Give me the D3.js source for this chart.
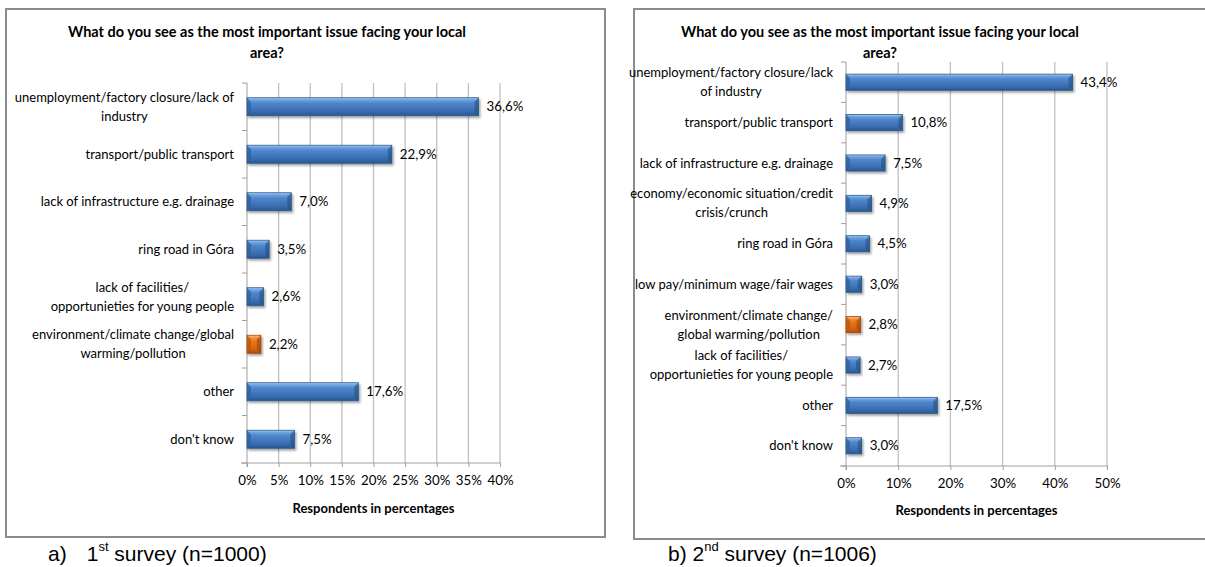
<!DOCTYPE html>
<html><head><meta charset="utf-8">
<script src="https://cdn.jsdelivr.net/npm/d3@7"></script>
<style>
html,body{margin:0;padding:0;background:#fff;}
svg{display:block;}
</style></head>
<body>
<svg id="c" width="1205" height="567"></svg>
<script>
const title = "What do you see as the most important issue facing your local\narea?";
const axisTitle = "Respondents in percentages";

const categories1 = [
  "unemployment/factory closure/lack of\nindustry",
  "transport/public transport",
  "lack of infrastructure e.g. drainage",
  "ring road in Góra",
  "lack of facilities/\nopportunieties for young people",
  "environment/climate change/global\nwarming/pollution",
  "other",
  "don't know"
];
const values1 = [36.6, 22.9, 7.0, 3.5, 2.6, 2.2, 17.6, 7.5];
const labels1 = ["36,6%", "22,9%", "7,0%", "3,5%", "2,6%", "2,2%", "17,6%", "7,5%"];
const ticks1 = [0, 5, 10, 15, 20, 25, 30, 35, 40];
const highlight1 = [false, false, false, false, false, true, false, false];

const categories2 = [
  "unemployment/factory closure/lack\nof industry",
  "transport/public transport",
  "lack of infrastructure e.g. drainage",
  "economy/economic situation/credit\ncrisis/crunch",
  "ring road in Góra",
  "low pay/minimum wage/fair wages",
  "environment/climate change/\nglobal warming/pollution",
  "lack of facilities/\nopportunieties for young people",
  "other",
  "don't know"
];
const values2 = [43.4, 10.8, 7.5, 4.9, 4.5, 3.0, 2.8, 2.7, 17.5, 3.0];
const labels2 = ["43,4%", "10,8%", "7,5%", "4,9%", "4,5%", "3,0%", "2,8%", "2,7%", "17,5%", "3,0%"];
const ticks2 = [0, 10, 20, 30, 40, 50];
const highlight2 = [false, false, false, false, false, false, true, false, false, false];

const captionA = {pre: "a)", num: "1", sup: "st", post: " survey (n=1000)"};
const captionB = {pre: "b) ", num: "2", sup: "nd", post: " survey (n=1006)"};

const svg = d3.select("#c");
const FONT = "Lato, 'Open Sans', sans-serif";

const defs = svg.append("defs");
function grad(id, stops) {
  const g = defs.append("linearGradient").attr("id", id).attr("x1", 0).attr("y1", 0).attr("x2", 0).attr("y2", 1);
  stops.forEach(s => g.append("stop").attr("offset", s[0]).attr("stop-color", s[1]));
}
grad("gBlue", [[0, "#a9cdf5"], [0.12, "#6fa3e0"], [0.3, "#4f86cc"], [0.75, "#3a6db0"], [1, "#2a568f"]]);
grad("gOrange", [[0, "#fbc08a"], [0.15, "#f2923a"], [0.35, "#e8761a"], [0.8, "#d0620b"], [1, "#a94c06"]]);
const f = defs.append("filter").attr("id", "sh").attr("x", "-10%").attr("y", "-30%").attr("width", "130%").attr("height", "180%");
f.append("feDropShadow").attr("dx", 1.5).attr("dy", 2).attr("stdDeviation", 1.2).attr("flood-color", "#000").attr("flood-opacity", 0.35);

function panel(cfg) {
  const g = svg.append("g");
  g.append("rect").attr("x", cfg.box[0]).attr("y", cfg.box[1]).attr("width", cfg.box[2]).attr("height", cfg.box[3])
    .attr("fill", "#fff").attr("stroke", "#8c8c8c").attr("stroke-width", 2);

  // title
  const tl = title.split("\n");
  tl.forEach((t, i) => {
    g.append("text").attr("x", cfg.titleX).attr("y", cfg.titleY + i * 21).attr("text-anchor", "middle")
      .attr("font-family", FONT).attr("font-weight", "bold").attr("font-size", 14.5).attr("fill", "#000").text(t);
  });

  const x = d3.scaleLinear().domain([0, cfg.max]).range([cfg.x0, cfg.x1]);
  const y = d3.scaleBand().domain(cfg.cats.map((d, i) => i)).range([cfg.y0, cfg.y1]).paddingInner(cfg.pad).paddingOuter(cfg.pad / 2);
  const yb = d3.scaleBand().domain(cfg.cats.map((d, i) => i)).range([cfg.y0, cfg.y1]);

  // gridlines
  g.append("g").selectAll("line").data(cfg.ticks.slice(1)).join("line")
    .attr("x1", d => x(d)).attr("x2", d => x(d)).attr("y1", cfg.y0).attr("y2", cfg.y1)
    .attr("stroke", "#c0c0c0").attr("stroke-width", 1.3);

  // x axis
  const xa = g.append("g").attr("transform", `translate(0,${cfg.y1})`)
    .call(d3.axisBottom(x).tickValues(cfg.ticks).tickFormat(d => d + "%").tickSize(4).tickPadding(9).tickSizeOuter(0));
  xa.select(".domain").attr("stroke", "#a0a0a0").attr("d", `M${cfg.x0 - 6},0H${cfg.x1 + 1}`);
  xa.selectAll(".tick line").attr("stroke", "#a0a0a0");
  xa.selectAll("text").attr("font-family", FONT).attr("font-size", 13.3).attr("fill", "#000");

  // y axis
  const ya = g.append("g").attr("transform", `translate(${cfg.x0},0)`);
  ya.append("line").attr("x1", 0).attr("x2", 0).attr("y1", cfg.y0).attr("y2", cfg.y1 + 4).attr("stroke", "#a0a0a0");
  ya.selectAll("line.t").data(d3.range(cfg.cats.length + 1)).join("line").attr("class", "t")
    .attr("x1", -5).attr("x2", 0)
    .attr("y1", i => i < cfg.cats.length ? yb(i) : cfg.y1).attr("y2", i => i < cfg.cats.length ? yb(i) : cfg.y1)
    .attr("stroke", "#a0a0a0");

  // category labels (block right-aligned, lines centered)
  cfg.cats.forEach((c, i) => {
    const lines = c.split("\n");
    const cy = yb(i) + yb.bandwidth() / 2;
    const tmp = lines.map(l => g.append("text").attr("font-family", FONT).attr("font-size", 13).text(l));
    const w = d3.max(tmp, t => t.node().getComputedTextLength());
    tmp.forEach(t => t.remove());
    const cx = cfg.labelRight - w / 2;
    lines.forEach((l, k) => {
      g.append("text").attr("x", cx).attr("y", cy + (k - (lines.length - 1) / 2) * cfg.lh)
        .attr("dy", "0.35em").attr("text-anchor", "middle")
        .attr("font-family", FONT).attr("font-size", 13).attr("fill", "#000").text(l);
    });
  });

  // bars
  const bars = g.append("g");
  cfg.vals.forEach((v, i) => {
    const by = y(i), bh = y.bandwidth(), bx = x(0), bw = x(v) - x(0);
    const hl = cfg.hl[i];
    const bg = bars.append("g").attr("filter", "url(#sh)");
    bg.append("rect").attr("x", bx).attr("y", by).attr("width", bw).attr("height", bh)
      .attr("fill", hl ? "url(#gOrange)" : "url(#gBlue)")
      .attr("stroke", hl ? "#a04a08" : "#2d5a8e").attr("stroke-width", 0.8);
    const b = Math.min(4, bh * 0.25);
    bg.append("path").attr("d", `M${bx},${by}L${bx + b},${by + b}L${bx + b},${by + bh - b}L${bx},${by + bh}Z`)
      .attr("fill", hl ? "#b85508" : "#2e5f9c").attr("opacity", 0.7);
    bg.append("path").attr("d", `M${bx + bw},${by}L${bx + bw - b},${by + b}L${bx + bw - b},${by + bh - b}L${bx + bw},${by + bh}Z`)
      .attr("fill", hl ? "#9a4506" : "#25507f").attr("opacity", 0.6);
    bars.append("text").attr("x", x(v) + 8).attr("y", by + bh / 2).attr("dy", "0.35em")
      .attr("font-family", FONT).attr("font-size", 13.3).attr("fill", "#000").text(cfg.labels[i]);
  });

  // axis title
  g.append("text").attr("x", (cfg.x0 + cfg.x1) / 2).attr("y", cfg.axTitleY).attr("text-anchor", "middle")
    .attr("font-family", FONT).attr("font-weight", "bold").attr("font-size", 13).attr("fill", "#000").text(axisTitle);

  // caption
  const cap = svg.append("text").attr("x", cfg.capX).attr("y", 561)
    .attr("font-family", "'Liberation Sans', Arial, sans-serif").attr("font-size", 21).attr("fill", "#000");
  cap.append("tspan").text(cfg.cap.pre);
  cap.append("tspan").attr("dx", cfg.capGap).text(cfg.cap.num);
  cap.append("tspan").attr("font-size", 13).attr("dy", -10).text(cfg.cap.sup);
  cap.append("tspan").attr("dy", 10).text(cfg.cap.post);
}

panel({
  box: [6, 9, 599, 528], titleX: 267, titleY: 37,
  x0: 247, x1: 500, y0: 83, y1: 463, max: 40, ticks: ticks1, pad: 0.62,
  cats: categories1, vals: values1, labels: labels1, hl: highlight1,
  labelRight: 234, lh: 19, axTitleY: 513, cap: captionA, capX: 48, capGap: 20
});
panel({
  box: [634, 9, 580, 530], titleX: 880, titleY: 37,
  x0: 846, x1: 1107, y0: 62, y1: 466, max: 50, ticks: ticks2, pad: 0.6,
  cats: categories2, vals: values2, labels: labels2, hl: highlight2,
  labelRight: 833, lh: 19, axTitleY: 515, cap: captionB, capX: 668, capGap: 0
});
</script>
</body></html>
